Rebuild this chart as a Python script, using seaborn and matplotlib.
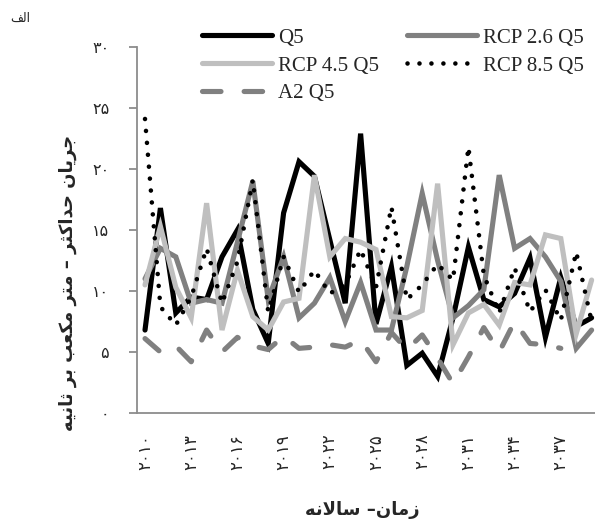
import numpy as np
import pandas as pd
import matplotlib
matplotlib.use("Agg")
import matplotlib.pyplot as plt
from matplotlib.font_manager import FontProperties
import seaborn as sns

# ---------------- data ----------------
years = list(range(2010, 2040))
q5 = [6.8, 16.8, 8.2, 9.5, 9.3, 12.8, 15.0, 8.5, 5.7, 16.4, 20.6, 19.4, 14.2, 9.0, 22.9,
      7.3, 12.0, 3.9, 4.9, 3.0, 7.8, 13.6, 9.3, 8.7, 9.8, 12.7, 6.2, 11.1, 7.1, 7.8]
rcp26 = [11.0, 13.5, 12.8, 9.0, 9.3, 9.0, 14.0, 19.0, 9.3, 12.8, 7.8, 9.0, 11.1, 7.5, 10.7,
         6.8, 6.8, 12.0, 18.0, 12.5, 7.8, 8.8, 10.1, 19.5, 13.5, 14.3, 12.8, 10.8, 5.3, 6.8]
rcp45 = [10.5, 15.3, 10.3, 7.8, 17.2, 6.8, 11.7, 7.9, 6.8, 9.1, 9.4, 19.5, 12.8, 14.3, 14.0,
         13.4, 7.9, 7.8, 8.4, 18.8, 5.6, 8.2, 8.9, 7.2, 10.7, 10.5, 14.6, 14.3, 6.5, 10.9]
rcp85 = [24.1, 8.7, 7.2, 9.5, 13.5, 9.0, 12.4, 19.1, 8.3, 12.8, 9.9, 11.7, 9.8, 10.5, 13.4,
         10.3, 16.9, 9.3, 10.5, 12.2, 10.9, 21.8, 11.3, 8.2, 11.9, 8.3, 10.1, 7.6, 13.2, 7.5]
a2 = [6.1, 5.0, 5.5, 4.2, 6.8, 5.0, 6.2, 5.5, 5.2, 6.3, 5.3, 5.4, 5.6, 5.4, 6.0,
      4.2, 6.6, 5.2, 6.4, 4.5, 2.4, 4.6, 7.0, 5.0, 7.5, 5.7, 5.6, 5.3, np.nan, np.nan]

series_names = ["Q5", "RCP 2.6 Q5", "RCP 4.5 Q5", "RCP 8.5 Q5", "A2 Q5"]
xtick_years = list(range(2010, 2040, 3))
ytick_vals = [0, 5, 10, 15, 20, 25, 30]

# ---------------- Persian text helpers ----------------
PDIG = str.maketrans("0123456789", "۰۱۲۳۴۵۶۷۸۹")

FORMS = {
    '\u0627': ('\uFE8D', '\uFE8E', None, None),
    '\u0628': ('\uFE8F', '\uFE90', '\uFE91', '\uFE92'),
    '\u062A': ('\uFE95', '\uFE96', '\uFE97', '\uFE98'),
    '\u062B': ('\uFE99', '\uFE9A', '\uFE9B', '\uFE9C'),
    '\u062C': ('\uFE9D', '\uFE9E', '\uFE9F', '\uFEA0'),
    '\u062D': ('\uFEA1', '\uFEA2', '\uFEA3', '\uFEA4'),
    '\u062F': ('\uFEA9', '\uFEAA', None, None),
    '\u0631': ('\uFEAD', '\uFEAE', None, None),
    '\u0632': ('\uFEAF', '\uFEB0', None, None),
    '\u0633': ('\uFEB1', '\uFEB2', '\uFEB3', '\uFEB4'),
    '\u0639': ('\uFEC9', '\uFECA', '\uFECB', '\uFECC'),
    '\u0641': ('\uFED1', '\uFED2', '\uFED3', '\uFED4'),
    '\u06A9': ('\uFB8E', '\uFB8F', '\uFB90', '\uFB91'),
    '\u0644': ('\uFEDD', '\uFEDE', '\uFEDF', '\uFEE0'),
    '\u0645': ('\uFEE1', '\uFEE2', '\uFEE3', '\uFEE4'),
    '\u0646': ('\uFEE5', '\uFEE6', '\uFEE7', '\uFEE8'),
    '\u0647': ('\uFEE9', '\uFEEA', '\uFEEB', '\uFEEC'),
    '\u06CC': ('\uFBFC', '\uFBFD', '\uFBFE', '\uFBFF'),
}


def shape(text):
    res = []
    prev_join = False
    i, n = 0, len(text)
    while i < n:
        c = text[i]
        if c not in FORMS:
            res.append(c)
            prev_join = False
            i += 1
            continue
        if c == '\u0644' and i + 1 < n and text[i + 1] == '\u0627':
            res.append('\uFEFC' if prev_join else '\uFEFB')
            prev_join = False
            i += 2
            continue
        iso, fin, ini, med = FORMS[c]
        dual = ini is not None
        nxt = i + 1 < n and text[i + 1] in FORMS
        if prev_join and dual and nxt:
            g = med
        elif prev_join:
            g = fin
        elif dual and nxt:
            g = ini
        else:
            g = iso
        res.append(g)
        prev_join = dual
        i += 1
    return ''.join(res)


def rtl(text):
    return shape(text)[::-1]


ylabel_txt = rtl("جریان حداکثر – متر مکعب بر ثانیه")
xlabel_txt = rtl("زمان– سالانه")
corner_txt = rtl("الف")

# ---------------- plot ----------------
sns.set_style("white")
plt.rcParams['font.family'] = ['DejaVu Sans']

W, H = 595, 522
fig = plt.figure(figsize=(W / 100, H / 100), dpi=100)
ax = fig.add_axes([137 / W, 1 - 413 / H, 1 - 137 / W, (413 - 47) / H])

df = pd.DataFrame({"year": years, "Q5": q5, "RCP 2.6 Q5": rcp26,
                   "RCP 4.5 Q5": rcp45, "RCP 8.5 Q5": rcp85, "A2 Q5": a2})

styles = {
    "Q5": dict(color="#000000", lw=3.7, ls="-"),
    "RCP 2.6 Q5": dict(color="#808080", lw=3.7, ls="-"),
    "RCP 4.5 Q5": dict(color="#BFBFBF", lw=3.7, ls="-"),
    "RCP 8.5 Q5": dict(color="#000000", lw=3.3, ls=(0, (0.01, 2.6))),
    "A2 Q5": dict(color="#808080", lw=3.7, ls=(0, (3.6, 4.5))),
}

lines = {}
for name in series_names:
    st = styles[name]
    sub = df[["year", name]].dropna()
    sns.lineplot(x=sub["year"], y=sub[name], ax=ax, color=st["color"],
                 linewidth=st["lw"], linestyle=st["ls"], label=name, legend=False)
    ln = ax.lines[-1]
    ln.set_dash_capstyle("round")
    ln.set_solid_capstyle("round")
    ln.set_solid_joinstyle("miter")
    lines[name] = ln

ax.set_xlim(2009.48, 2039.22)
ax.set_ylim(0, 30)
ax.set_xlabel("")
ax.set_ylabel("")

for s in ["top", "right"]:
    ax.spines[s].set_visible(False)
for s in ["left", "bottom"]:
    ax.spines[s].set_color("#8c8c8c")
    ax.spines[s].set_linewidth(1.3)

ax.set_yticks(ytick_vals)
ax.set_yticklabels([str(v).translate(PDIG) for v in ytick_vals], fontsize=11.5)
ax.set_xticks(xtick_years)
ax.set_xticklabels([str(v).translate(PDIG) for v in xtick_years], rotation=90, fontsize=12)
ax.tick_params(axis="y", length=6, width=1.3, color="#8c8c8c", pad=14, direction="out", left=True)
ax.tick_params(axis="x", length=0, pad=15, bottom=False)

# legend
order = ["Q5", "RCP 4.5 Q5", "A2 Q5", "RCP 2.6 Q5", "RCP 8.5 Q5"]
fig.legend([lines[n] for n in order], order, ncol=2, loc="upper left",
           bbox_to_anchor=(202 / W, 1 - 28 / H), frameon=False,
           prop=FontProperties(family="Liberation Serif", size=15),
           handlelength=3.36, handletextpad=0.28, columnspacing=1.35,
           labelspacing=0.4, borderpad=0, borderaxespad=0)

fig.text(68 / W, 1 - 283 / H, ylabel_txt, rotation=90, ha="center", va="center",
         fontsize=13, fontweight="bold")
fig.text(362 / W, 1 - 510 / H, xlabel_txt, ha="center", va="center",
         fontsize=13, fontweight="bold")
fig.text(20 / W, 1 - 18 / H, corner_txt, ha="center", va="center", fontsize=9)

fig.savefig("out.png", dpi=100)
